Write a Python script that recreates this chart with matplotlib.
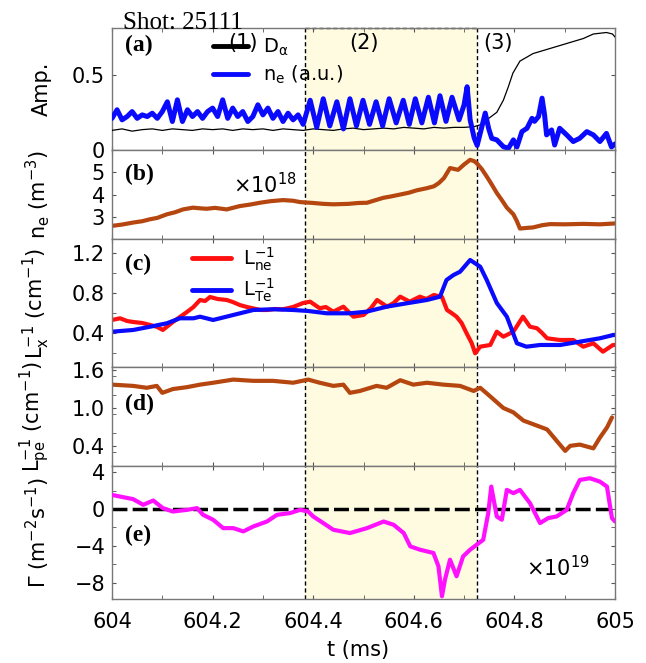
import numpy as np
import matplotlib.pyplot as plt
from matplotlib.lines import Line2D
from matplotlib.ticker import MultipleLocator, FuncFormatter

plt.rcParams['font.family'] = 'DejaVu Sans'
plt.rcParams['mathtext.default'] = 'regular'
plt.rcParams['lines.solid_joinstyle'] = 'round'
plt.rcParams['lines.solid_capstyle'] = 'round'

# boundaries of phase (2)
t_phase = [604.384, 604.726]

# (a) D_alpha emission and density fluctuation amplitude
t_da = [604.00, 604.02, 604.04, 604.06, 604.08, 604.10, 604.12, 604.14, 604.16, 604.18,
        604.20, 604.22, 604.24, 604.26, 604.28, 604.30, 604.32, 604.34, 604.36, 604.38,
        604.40, 604.42, 604.44, 604.46, 604.48, 604.50, 604.52, 604.54, 604.56, 604.58,
        604.60, 604.62, 604.64, 604.66, 604.68, 604.70, 604.72, 604.735, 604.745, 604.765,
        604.778, 604.788, 604.797, 604.811, 604.837, 604.857, 604.877, 604.897, 604.917,
        604.937, 604.957, 604.983, 604.995, 605.0]
da = [0.13, 0.14, 0.125, 0.135, 0.14, 0.13, 0.14, 0.135, 0.13, 0.14,
      0.135, 0.14, 0.13, 0.14, 0.135, 0.14, 0.13, 0.14, 0.135, 0.13,
      0.14, 0.135, 0.13, 0.14, 0.145, 0.135, 0.14, 0.145, 0.14, 0.15,
      0.145, 0.14, 0.15, 0.145, 0.15, 0.15, 0.155, 0.17, 0.20, 0.25,
      0.33, 0.42, 0.51, 0.59, 0.64, 0.66, 0.68, 0.70, 0.72,
      0.74, 0.77, 0.78, 0.77, 0.75]

t_nea = [604.00, 604.01, 604.02, 604.03, 604.04, 604.05, 604.06, 604.07, 604.08, 604.09,
         604.10, 604.11, 604.12, 604.13, 604.14, 604.15, 604.16, 604.17, 604.18, 604.19,
         604.20, 604.21, 604.22, 604.23, 604.24, 604.25, 604.26, 604.27, 604.28, 604.29,
         604.30, 604.31, 604.32, 604.33, 604.34, 604.35, 604.36, 604.37, 604.38,
         604.394, 604.407, 604.420, 604.433, 604.447, 604.460, 604.473, 604.486, 604.499,
         604.512, 604.525, 604.538, 604.551, 604.565, 604.579, 604.591, 604.603, 604.616,
         604.629, 604.641, 604.652, 604.664, 604.676, 604.690, 604.700, 604.706, 604.712,
         604.720, 604.726, 604.735, 604.742, 604.749, 604.755, 604.765, 604.778, 604.788,
         604.798, 604.805, 604.815, 604.825, 604.835, 604.840, 604.848, 604.855, 604.860,
         604.864, 604.874, 604.880, 604.890, 604.904, 604.917, 604.930, 604.944, 604.957,
         604.970, 604.983, 604.993, 605.0]
nea = [0.21, 0.267, 0.20, 0.222, 0.255, 0.21, 0.233, 0.222, 0.244, 0.21,
       0.255, 0.32, 0.189, 0.333, 0.189, 0.267, 0.222, 0.255, 0.21, 0.255,
       0.278, 0.222, 0.333, 0.21, 0.278, 0.222, 0.255, 0.189, 0.222, 0.30,
       0.233, 0.278, 0.21, 0.255, 0.189, 0.244, 0.20, 0.233, 0.17,
       0.33, 0.15, 0.34, 0.16, 0.32, 0.14, 0.34, 0.16, 0.33,
       0.17, 0.32, 0.16, 0.34, 0.18, 0.33, 0.17, 0.34, 0.18,
       0.35, 0.18, 0.36, 0.19, 0.35, 0.20, 0.30, 0.42, 0.20,
       0.08, 0.03, 0.15, 0.245, 0.14, 0.077, 0.067, 0.022, 0.011,
       0.067, 0.02, 0.122, 0.144, 0.21, 0.19, 0.222, 0.344, 0.233,
       0.10, 0.133, 0.033, 0.144, 0.10, 0.056, 0.078, 0.122, 0.10,
       0.056, 0.11, 0.02, 0.04]

# (b) electron density, 1e18 m^-3
t_ne = [604.000, 604.020, 604.042, 604.060, 604.076, 604.090, 604.109, 604.125, 604.141,
        604.161, 604.175, 604.188, 604.205, 604.228, 604.240, 604.254, 604.275, 604.294,
        604.315, 604.340, 604.360, 604.374, 604.400, 604.420, 604.440, 604.470, 604.490,
        604.507, 604.520, 604.539, 604.556, 604.573, 604.590, 604.606, 604.625, 604.640,
        604.650, 604.660, 604.672, 604.680, 604.688, 604.700, 604.712, 604.720, 604.725,
        604.735, 604.745, 604.755, 604.765, 604.775, 604.785, 604.798, 604.805, 604.811,
        604.825, 604.837, 604.855, 604.871, 604.900, 604.937, 604.970, 605.000]
ne = [2.59, 2.65, 2.74, 2.80, 2.89, 2.95, 3.11, 3.20, 3.33,
      3.41, 3.38, 3.36, 3.40, 3.33, 3.40, 3.48, 3.55, 3.63,
      3.70, 3.75, 3.72, 3.66, 3.62, 3.58, 3.56, 3.58, 3.62,
      3.63, 3.72, 3.85, 3.92, 4.00, 4.08, 4.19, 4.28, 4.37,
      4.52, 4.74, 5.19, 5.15, 5.11, 5.35, 5.56, 5.50, 5.41,
      5.15, 4.81, 4.45, 4.07, 3.75, 3.41, 3.11, 2.80, 2.47,
      2.50, 2.52, 2.62, 2.67, 2.66, 2.68, 2.66, 2.70]

# (c) inverse gradient lengths of n_e and T_e, cm^-1
t_lne = [604.000, 604.016, 604.030, 604.042, 604.060, 604.076, 604.090, 604.101, 604.121,
         604.135, 604.149, 604.162, 604.175, 604.185, 604.195, 604.210, 604.228, 604.240,
         604.254, 604.268, 604.280, 604.295, 604.308, 604.325, 604.340, 604.360, 604.380,
         604.394, 604.413, 604.425, 604.440, 604.460, 604.480, 604.500, 604.515, 604.527,
         604.547, 604.560, 604.573, 604.592, 604.612, 604.625, 604.640, 604.656, 604.666,
         604.675, 604.685, 604.695, 604.705, 604.715, 604.722, 604.732, 604.752, 604.765,
         604.778, 604.798, 604.817, 604.831, 604.845, 604.855, 604.865, 604.890, 604.917,
         604.937, 604.957, 604.976, 604.996, 605.000]
lne = [0.53, 0.547, 0.52, 0.51, 0.50, 0.48, 0.46, 0.43, 0.51,
       0.56, 0.61, 0.66, 0.73, 0.72, 0.76, 0.74, 0.73, 0.71,
       0.68, 0.66, 0.647, 0.63, 0.63, 0.64, 0.637, 0.66, 0.70,
       0.713, 0.647, 0.66, 0.613, 0.663, 0.563, 0.58, 0.65, 0.73,
       0.663, 0.70, 0.763, 0.713, 0.763, 0.74, 0.78, 0.76, 0.63,
       0.60, 0.563, 0.50, 0.397, 0.30, 0.197, 0.263, 0.28, 0.413,
       0.363, 0.413, 0.563, 0.463, 0.447, 0.40, 0.347, 0.33, 0.33,
       0.263, 0.297, 0.213, 0.28, 0.28]

t_lte = [604.000, 604.042, 604.076, 604.109, 604.135, 604.162, 604.175, 604.201, 604.241,
         604.281, 604.321, 604.360, 604.390, 604.427, 604.473, 604.506, 604.546, 604.586,
         604.626, 604.652, 604.665, 604.679, 604.692, 604.712, 604.732, 604.745, 604.765,
         604.785, 604.805, 604.824, 604.851, 604.891, 604.930, 604.970, 604.997, 605.000]
lte = [0.413, 0.43, 0.463, 0.497, 0.547, 0.547, 0.563, 0.53, 0.58,
       0.63, 0.637, 0.63, 0.62, 0.597, 0.597, 0.613, 0.663, 0.697,
       0.73, 0.763, 0.93, 0.98, 1.013, 1.13, 1.063, 0.93, 0.70,
       0.563, 0.297, 0.263, 0.28, 0.28, 0.313, 0.347, 0.38, 0.38]

# (d) inverse pressure gradient length, cm^-1
t_lpe = [604.000, 604.042, 604.069, 604.089, 604.100, 604.121, 604.149, 604.175, 604.201,
         604.241, 604.281, 604.320, 604.360, 604.390, 604.413, 604.440, 604.460, 604.473,
         604.493, 604.526, 604.546, 604.573, 604.599, 604.626, 604.659, 604.692, 604.719,
         604.732, 604.751, 604.778, 604.798, 604.818, 604.845, 604.865, 604.884, 604.901,
         604.911, 604.930, 604.957, 604.970, 604.984, 604.994]
lpe = [1.37, 1.35, 1.32, 1.35, 1.24, 1.30, 1.33, 1.37, 1.40,
       1.45, 1.43, 1.43, 1.40, 1.45, 1.40, 1.35, 1.37, 1.24,
       1.27, 1.35, 1.32, 1.44, 1.37, 1.40, 1.37, 1.35, 1.27,
       1.32, 1.19, 1.00, 0.93, 0.80, 0.72, 0.66, 0.48, 0.32,
       0.40, 0.42, 0.36, 0.53, 0.69, 0.85]

# (e) particle flux, 1e19 m^-2 s^-1
t_flux = [604.000, 604.016, 604.042, 604.062, 604.082, 604.101, 604.121, 604.149, 604.169,
          604.181, 604.201, 604.221, 604.241, 604.261, 604.281, 604.308, 604.328, 604.354,
          604.374, 604.390, 604.400, 604.420, 604.440, 604.473, 604.507, 604.540, 604.560,
          604.580, 604.593, 604.612, 604.639, 604.649, 604.656, 604.662, 604.672, 604.685,
          604.698, 604.712, 604.725, 604.738, 604.748, 604.754, 604.765, 604.775, 604.785,
          604.798, 604.811, 604.831, 604.851, 604.867, 604.884, 604.904, 604.917, 604.930,
          604.950, 604.970, 604.984, 604.994, 605.000]
flux = [1.55, 1.37, 1.09, 0.47, 0.94, 0.11, -0.26, -0.08, 0.11,
        -0.62, -1.16, -2.07, -2.07, -2.43, -1.89, -1.35, -0.62, -0.43,
        -0.08, -0.26, -0.80, -1.52, -2.25, -2.61, -2.07, -1.35, -1.71,
        -2.61, -4.06, -4.42, -4.78, -6.23, -9.50, -7.68, -5.51, -7.32,
        -5.15, -4.42, -3.88, -3.34, -0.43, 2.46, -0.80, -1.16, 2.10,
        1.74, 2.10, 0.65, -1.52, -0.98, -0.80, -0.08, 1.74, 3.18,
        3.37, 3.00, 2.46, -0.98, -1.34]

yellow = '#fefbe0'
brown = '#b5460f'
blue = '#0a0aff'
fs = 15

fig = plt.figure(figsize=(6.46, 6.63), dpi=100)

# panel boxes: left, bottom, width, height in figure fractions
boxes = [[0.1734, 0.7738, 0.7786, 0.1840],
         [0.1734, 0.6395, 0.7786, 0.1342],
         [0.1734, 0.4465, 0.7786, 0.1930],
         [0.1734, 0.2971, 0.7786, 0.1494],
         [0.1734, 0.0965, 0.7786, 0.2006]]
axes = [fig.add_axes(b) for b in boxes]

for i, ax in enumerate(axes):
    ax.axvspan(t_phase[0], t_phase[1], fc=yellow, ec='none', zorder=0)
    for t in t_phase:
        ax.axvline(t, color='k', ls=(0, (3, 2)), lw=1.0, zorder=1)
    ax.set_xlim(604, 605)
    ax.xaxis.set_major_locator(MultipleLocator(0.2))
    ax.xaxis.set_minor_locator(MultipleLocator(0.1))
    ax.xaxis.set_major_formatter(FuncFormatter(lambda v, p: '%g' % round(v, 1)))
    ax.tick_params(which='both', direction='in', top=True, right=True,
                   length=3, color='#555555', labelsize=fs)
    ax.tick_params(axis='y', pad=5)
    ax.tick_params(axis='x', pad=9)
    for s in ax.spines.values():
        s.set_color('#777777')
        s.set_linewidth(1.0)
    if i < 4:
        ax.tick_params(labelbottom=False)
    ax.yaxis.set_label_coords(-0.12, 0.5)

# (a)
ax = axes[0]
ax.plot(t_da, da, color='k', lw=0.9, zorder=3)
ax.plot(t_nea, nea, color=blue, lw=3.6, zorder=4)
ax.plot(t_phase, [0.81, 0.81], color='k', ls=(0, (3, 2)), lw=1.0, clip_on=False)
ax.set_ylim(0, 0.81)
ax.set_yticks([0, 0.5])
ax.set_yticklabels(['0', '0.5'])
ax.set_ylabel('Amp.', fontsize=fs)
ax.text(604.26, 0.71, '(1)', fontsize=fs, ha='center', va='center')
ax.text(604.50, 0.71, '(2)', fontsize=fs, ha='center', va='center')
ax.text(604.767, 0.71, '(3)', fontsize=fs, ha='center', va='center')
ax.legend([Line2D([], [], color='k', lw=3.5), Line2D([], [], color=blue, lw=3.5)],
          [r'D$_\alpha$', r'n$_e$ (a.u.)'], loc='upper left', bbox_to_anchor=(0.2, 0.93),
          frameon=False, fontsize=fs - 1, borderpad=0, borderaxespad=0, handlelength=1.8,
          handletextpad=0.8, labelspacing=0.3)

# (b)
ax = axes[1]
ax.plot(t_ne, ne, color=brown, lw=3)
ax.set_ylim(2, 6)
ax.set_yticks([3, 4, 5])
ax.set_ylabel(r'n$_e$ (m$^{-3}$)', fontsize=fs)
ax.text(604.304, 4.45, r'$\times10^{18}$', fontsize=fs, ha='center', va='center')

# (c)
ax = axes[2]
ax.plot(t_lne, lne, color='#ff1010', lw=3)
ax.plot(t_lte, lte, color=blue, lw=3)
ax.set_ylim(0.06, 1.34)
ax.set_yticks([0.4, 0.8, 1.2])
ax.set_yticklabels(['0.4', '0.8', '1.2'])
ax.yaxis.set_minor_locator(MultipleLocator(0.2))
ax.set_ylabel(r'L$_x^{-1}$ (cm$^{-1}$)', fontsize=fs)
ax.legend([Line2D([], [], color='#ff1010', lw=3.5), Line2D([], [], color=blue, lw=3.5)],
          [r'$L_{ne}^{-1}$', r'$L_{Te}^{-1}$'], loc='upper left', bbox_to_anchor=(0.16, 0.95),
          frameon=False, fontsize=fs - 1, borderpad=0, borderaxespad=0, handlelength=2.0,
          handletextpad=0.6, labelspacing=0.2)

# (d)
ax = axes[3]
ax.plot(t_lpe, lpe, color=brown, lw=3)
ax.set_ylim(0.08, 1.65)
ax.set_yticks([0.4, 1.0, 1.6])
ax.set_yticklabels(['0.4', '1.0', '1.6'])
ax.yaxis.set_minor_locator(MultipleLocator(0.3))
ax.set_ylabel(r'L$_{pe}^{-1}$ (cm$^{-1}$)', fontsize=fs)

# (e)
ax = axes[4]
ax.axhline(0, color='k', ls=(0, (4.3, 1.5)), lw=2.5, zorder=2)
ax.plot(t_flux, flux, color='#ff10ff', lw=3, zorder=3)
ax.set_ylim(-9.8, 4.7)
ax.set_yticks([-8, -4, 0, 4])
ax.yaxis.set_minor_locator(MultipleLocator(2))
ax.set_ylabel(r'$\Gamma$ (m$^{-2}$s$^{-1}$)', fontsize=fs)
ax.text(604.887, -6.4, r'$\times10^{19}$', fontsize=fs, ha='center', va='center')
ax.set_xlabel('t (ms)', fontsize=fs)
ax.xaxis.set_label_coords(0.49, -0.31)

# panel tags
tags = ['(a)', '(b)', '(c)', '(d)', '(e)']
tag_y = [0.86, 0.73, 0.80, 0.62, 0.48]
for ax, tag, y in zip(axes, tags, tag_y):
    ax.text(0.025, y, tag, transform=ax.transAxes, fontsize=17, fontweight='bold',
            family='Liberation Serif', va='center', ha='left', zorder=5)

fig.text(0.19, 1 - 29 / 663, 'Shot: 25111', fontsize=18, family='Liberation Serif',
         va='baseline', ha='left')

fig.savefig('out.png', dpi=100)
